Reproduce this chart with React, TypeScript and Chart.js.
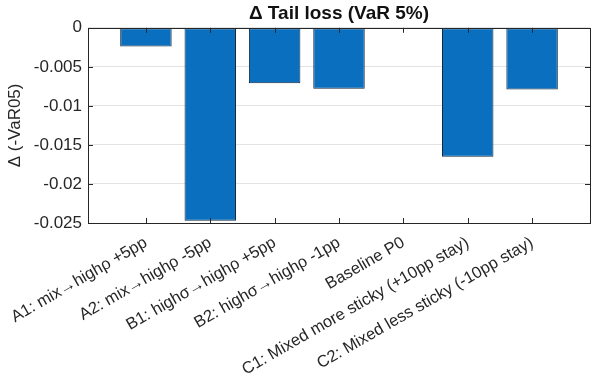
import React, { useEffect, useRef } from 'react';
import { Chart, registerables } from 'chart.js';

Chart.register(...registerables);

const categories = [
  'A1: mix→highρ +5pp',
  'A2: mix→highρ -5pp',
  'B1: highσ→highρ +5pp',
  'B2: highσ→highρ -1pp',
  'Baseline P0',
  'C1: Mixed more sticky (+10pp stay)',
  'C2: Mixed less sticky (-10pp stay)',
];
const deltaVaR = [-0.0024, -0.0247, -0.0071, -0.0078, 0, -0.0165, -0.0079];
const yTickValues = [0, -0.005, -0.01, -0.015, -0.02, -0.025];
const yTickLabels = ['0', '-0.005', '-0.01', '-0.015', '-0.02', '-0.025'];
const chartTitle = 'Δ Tail loss (VaR 5%)';
const yAxisTitle = 'Δ (-VaR05)';

const FONT = "'Liberation Sans', Arial, Helvetica, sans-serif";
const AXIS = '#262626';

const framePlugin = {
  id: 'matlabFrame',
  afterDatasetsDraw(chart: any) {
    const { ctx, chartArea: a, scales } = chart;
    const tl = 5;
    ctx.save();
    ctx.strokeStyle = AXIS;
    ctx.lineWidth = 1;
    ctx.beginPath();
    scales.x.ticks.forEach((t: any) => {
      const px = Math.round(scales.x.getPixelForValue(t.value)) + 0.5;
      ctx.moveTo(px, a.bottom);
      ctx.lineTo(px, a.bottom - tl);
      ctx.moveTo(px, a.top);
      ctx.lineTo(px, a.top + tl);
    });
    scales.y.ticks.forEach((t: any) => {
      const py = Math.round(scales.y.getPixelForValue(t.value)) + 0.5;
      ctx.moveTo(a.left, py);
      ctx.lineTo(a.left + tl, py);
      ctx.moveTo(a.right, py);
      ctx.lineTo(a.right - tl, py);
    });
    ctx.stroke();
    ctx.strokeRect(
      Math.round(a.left) + 0.5,
      Math.round(a.top) + 0.5,
      Math.round(a.right - a.left),
      Math.round(a.bottom - a.top)
    );
    ctx.restore();
  },
};

export default function App() {
  const ref = useRef<HTMLCanvasElement | null>(null);
  useEffect(() => {
    if (!ref.current) return;
    const chart = new Chart(ref.current, {
      type: 'bar',
      data: {
        datasets: [
          {
            data: deltaVaR.map((v, i) => ({ x: i + 1, y: v })),
            backgroundColor: '#0b6fbf',
            borderColor: '#16283a',
            borderWidth: 1,
            borderSkipped: false,
            barPercentage: 0.8,
            categoryPercentage: 1,
          },
        ],
      },
      options: {
        animation: false,
        responsive: false,
        maintainAspectRatio: false,
        layout: { padding: { left: 0, right: 7, top: 0, bottom: 0 } },
        plugins: {
          legend: { display: false },
          tooltip: { enabled: false },
          title: {
            display: true,
            text: chartTitle,
            fullSize: false,
            color: '#111',
            font: { family: FONT, size: 19, weight: 'bold' },
            padding: { top: 2, bottom: 3 },
          },
        },
        scales: {
          x: {
            type: 'linear',
            min: 0.1,
            max: 7.9,
            offset: false,
            afterBuildTicks: (s: any) => {
              s.ticks = categories.map((_, i) => ({ value: i + 1 }));
            },
            afterFit: (s: any) => {
              s.height = 155;
            },
            grid: { display: false },
            border: { display: false },
            ticks: {
              autoSkip: false,
              minRotation: 30,
              maxRotation: 30,
              padding: 2,
              color: AXIS,
              font: { family: FONT, size: 16.5 },
              callback: (v: any) => categories[Math.round(v) - 1] ?? '',
            },
          },
          y: {
            min: -0.025,
            max: 0,
            afterBuildTicks: (s: any) => {
              s.ticks = yTickValues.map((v) => ({ value: v }));
            },
            afterFit: (s: any) => {
              s.width = 88;
            },
            grid: { color: '#e3e3e3', drawTicks: false },
            border: { display: false },
            ticks: {
              padding: 6,
              color: AXIS,
              font: { family: FONT, size: 17 },
              callback: (v: any) => {
                const i = yTickValues.findIndex((t) => Math.abs(t - v) < 1e-9);
                return i >= 0 ? yTickLabels[i] : '';
              },
            },
            title: {
              display: true,
              text: yAxisTitle,
              color: AXIS,
              font: { family: FONT, size: 17 },
              padding: { top: 5, bottom: 0 },
            },
          },
        },
      },
      plugins: [framePlugin],
    } as any);
    return () => chart.destroy();
  }, []);
  return (
    <div style={{ position: 'fixed', left: 0, top: 0, width: 597, height: 378, background: '#fff' }}>
      <canvas ref={ref} width={597} height={378} style={{ width: 597, height: 378, display: 'block' }} />
    </div>
  );
}
